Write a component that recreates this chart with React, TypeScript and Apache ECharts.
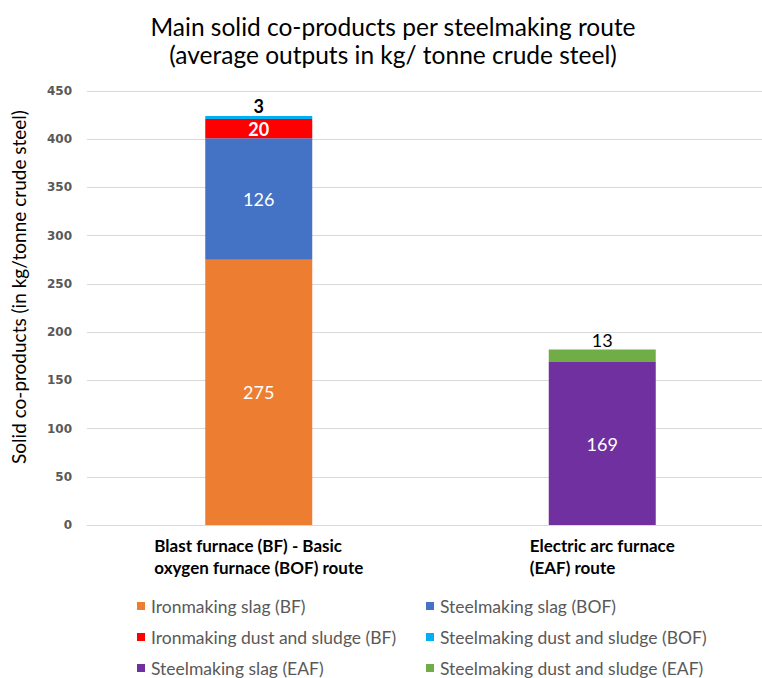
import React, { useEffect, useRef } from "react";
import * as echarts from "echarts";

const categories = [
  "{a|Blast furnace (BF) - Basic}\n{a|oxygen furnace (BOF) route}",
  "{a|Electric arc furnace}\n{a|(EAF) route}",
];
const seriesNames = [
  "Ironmaking slag (BF)",
  "Steelmaking slag (BOF)",
  "Ironmaking dust and sludge (BF)",
  "Steelmaking dust and sludge (BOF)",
  "Steelmaking slag (EAF)",
  "Steelmaking dust and sludge (EAF)",
];
const ironSlagBF: (number | string)[] = [275, "-"];
const steelSlagBOF: (number | string)[] = [126, "-"];
const ironDustBF: (number | string)[] = [20, "-"];
const steelDustBOF: (number | string)[] = [3, "-"];
const steelSlagEAF: (number | string)[] = ["-", 169];
const steelDustEAF: (number | string)[] = ["-", 13];
const colors = ["#ED7D31", "#4472C4", "#FF0000", "#00B0F0", "#7030A0", "#70AD47"];

const FONT = "Lato, 'Open Sans', sans-serif";

export default function App() {
  const ref = useRef<HTMLDivElement>(null);
  useEffect(() => {
    document.body.style.margin = "0";
    if (!ref.current) return;
    const chart = echarts.init(ref.current, undefined, { renderer: "svg" });
    const dataSets = [ironSlagBF, steelSlagBOF, ironDustBF, steelDustBOF, steelSlagEAF, steelDustEAF];
    const labelCfg = [
      { show: true, position: "inside", color: "#fff", fontSize: 18, fontFamily: FONT },
      { show: true, position: "inside", color: "#fff", fontSize: 18, fontFamily: FONT },
      { show: true, position: "inside", color: "#fff", fontSize: 18, fontWeight: "bold", fontFamily: FONT },
      { show: true, position: "top", distance: 1, color: "#000", fontSize: 18, fontWeight: "bold", fontFamily: FONT },
      { show: true, position: "inside", color: "#fff", fontSize: 18, fontFamily: FONT },
      { show: true, position: "top", distance: 0, color: "#000", fontSize: 18, fontFamily: FONT },
    ];
    const series = seriesNames.map((name, i) => ({
      name,
      type: "bar",
      stack: "total",
      barWidth: 107,
      data: dataSets[i],
      itemStyle: { color: colors[i] },
      label: labelCfg[i],
    }));
    const legendText = { color: "#595959", fontSize: 17.5, fontFamily: FONT };
    const legendPos = [
      [137, 608],
      [426, 608],
      [137, 639],
      [426, 639],
      [137, 670],
      [426, 670],
    ];
    const legends = seriesNames.map((name, i) => ({
      left: legendPos[i][0],
      top: legendPos[i][1] - 11,
      itemWidth: 8,
      itemHeight: 8,
      itemGap: 0,
      icon: "rect",
      data: [name],
      textStyle: { ...legendText, padding: [0, 0, 0, 1] },
      padding: 0,
    }));
    chart.setOption({
      animation: false,
      title: {
        text: "Main solid co-products per steelmaking route\n(average outputs in kg/ tonne crude steel)",
        left: 388,
        textAlign: "center",
        top: 7,
        textStyle: { fontSize: 24.5, fontWeight: "normal", color: "#000", fontFamily: FONT, lineHeight: 28 },
      },
      legend: legends,
      grid: { left: 87, top: 91, width: 687, height: 434, containLabel: false, outerBoundsMode: "none" },
      xAxis: {
        type: "category",
        data: categories,
        axisLine: { lineStyle: { color: "#D9D9D9" } },
        axisTick: { show: false },
        axisLabel: {
          margin: 9,
          interval: 0,
          rich: {
            a: { align: "left", fontSize: 17, fontWeight: "bold", color: "#000", fontFamily: FONT, lineHeight: 22 },
          },
        },
      },
      yAxis: {
        type: "value",
        min: 0,
        max: 450,
        interval: 50,
        name: "Solid co-products (in kg/tonne crude steel)",
        nameLocation: "middle",
        nameGap: 59,
        nameTextStyle: { fontSize: 19, color: "#000", fontFamily: FONT, padding: [0, 0, 0, 42] },
        axisLine: { show: false },
        axisTick: { show: false },
        axisLabel: { margin: 15, fontSize: 12, fontWeight: "bold", color: "#595959", fontFamily: "'DejaVu Sans', sans-serif" },
        splitLine: { lineStyle: { color: "#D9D9D9" } },
      },
      series,
    });
    return () => chart.dispose();
  }, []);
  return <div ref={ref} style={{ width: 762, height: 678 }} />;
}
